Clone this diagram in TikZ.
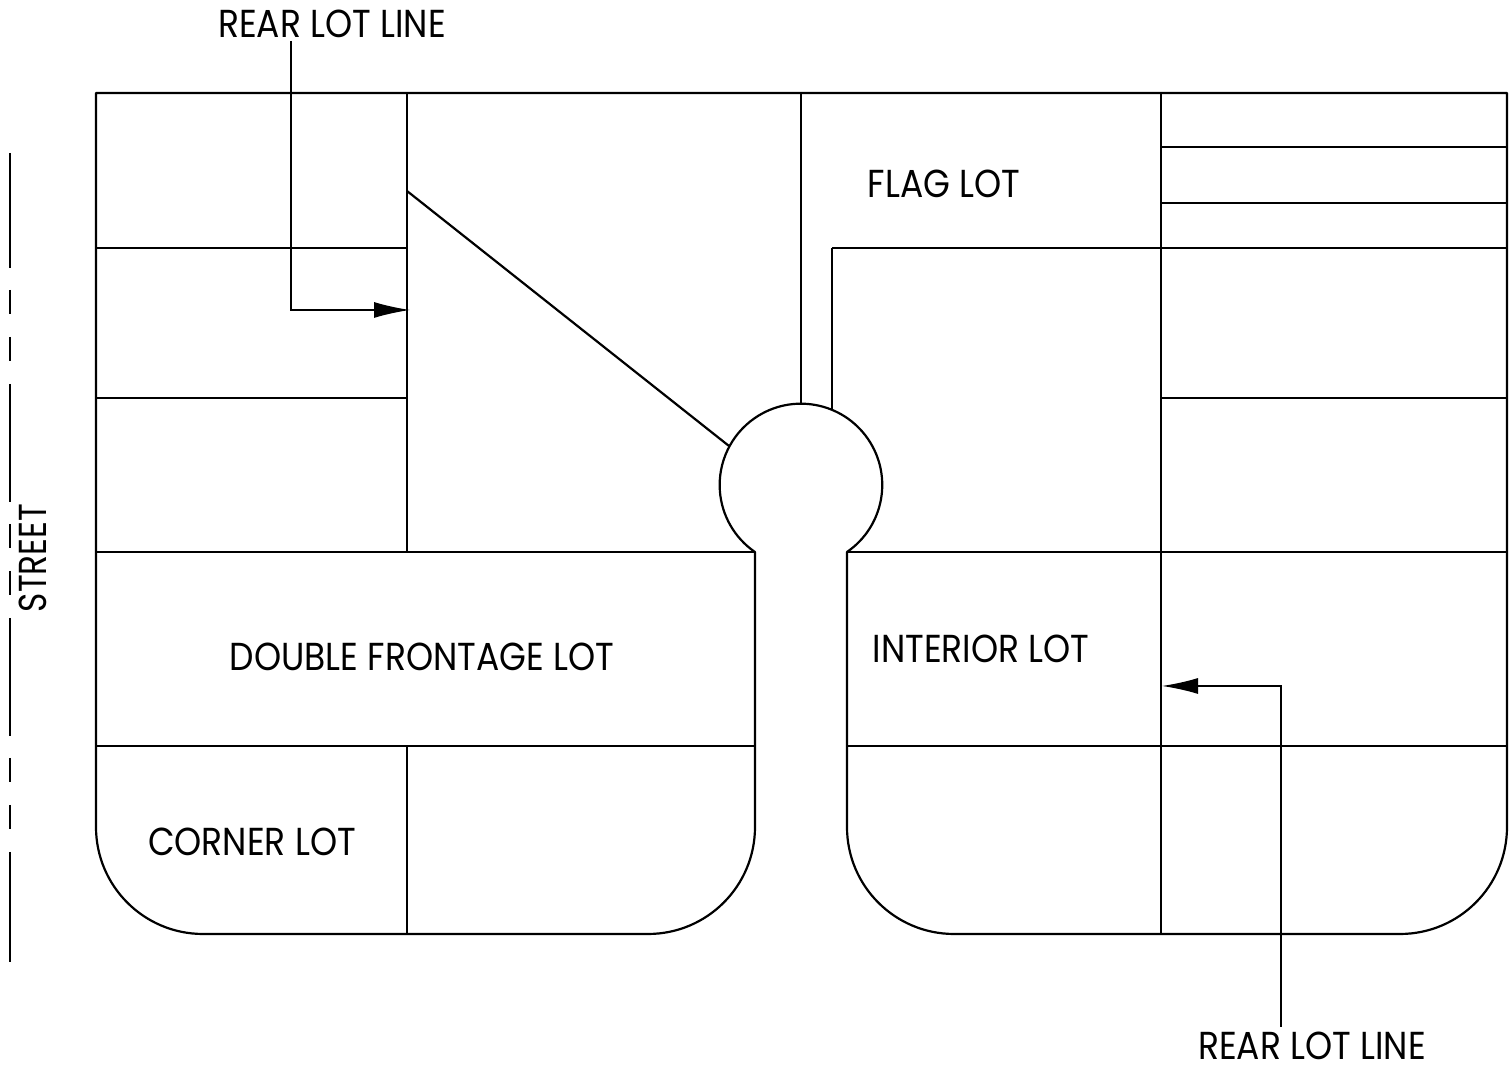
\documentclass[tikz,border=0pt]{standalone}
\usepackage{fontspec}
\setmainfont{Poppins}[FakeStretch=0.885]
\usetikzlibrary{arrows.meta}

\begin{document}
\begin{tikzpicture}[
    x=0.5pt, y=0.5pt,
    lotline/.style={draw, line width=1.1pt, line join=round},
    leader/.style={draw, line width=0.7pt, -{Latex[length=18pt,width=8pt]}},
    street/.style={draw, line width=1.3pt},
    lotlabel/.style={inner sep=0pt, font=\fontsize{19.5pt}{22pt}\selectfont}
]
\useasboundingbox (0,0) rectangle (1512,1069);

% blocks and the cul-de-sac
\draw[lotline] (96,976) -- (1507,976) -- (1507,242)
    arc[start angle=0, end angle=-90, radius=107] -- (954,135)
    arc[start angle=270, end angle=180, radius=107] -- (847,517)
    arc[start angle=-55.5, end angle=235.5, radius=81.3] -- (755,242)
    arc[start angle=0, end angle=-90, radius=107] -- (203,135)
    arc[start angle=270, end angle=180, radius=107] -- cycle;

% lot lines
\foreach \xa/\xb/\y in {96/407/821, 96/407/671, 96/755/517, 96/755/323,
                        847/1507/517, 847/1507/323, 1161/1507/922,
                        1161/1507/866, 1161/1507/671, 832/1507/821}
    \draw[lotline] (\xa,\y) -- (\xb,\y);
\foreach \x/\ya/\yb in {407/976/517, 407/323/135, 801/976/665,
                        832/821/659, 1161/976/135}
    \draw[lotline] (\x,\ya) -- (\x,\yb);
\draw[lotline] (407,878) -- (729,623);

% street line
\foreach \ya/\yb in {153/268, 290/314, 337/361, 384/502, 524/548,
                     571/595, 618/736, 758/782, 805/829, 852/962}
    \draw[street] (10,1069-\ya) -- (10,1069-\yb);

\node[lotlabel] (rear1) at (332,1045) {REAR LOT LINE};
\node[lotlabel] (rear2) at (1312,23) {REAR LOT LINE};
\node[lotlabel] (flag) at (944,885) {FLAG LOT};
\node[lotlabel] (double) at (422,412) {DOUBLE FRONTAGE LOT};
\node[lotlabel] (interior) at (981,420) {INTERIOR LOT};
\node[lotlabel] (corner) at (252,227) {CORNER LOT};
\node[lotlabel, rotate=90, xscale=0.95] (streetname) at (33,511) {STREET};

\coordinate (rear1from) at (291,1028);
\coordinate (rear1to) at (410,759);
\coordinate (rear2from) at (1281,42);
\coordinate (rear2to) at (1162,383);
\draw[leader] (rear1from) |- (rear1to);
\draw[leader] (rear2from) |- (rear2to);
\end{tikzpicture}
\end{document}
